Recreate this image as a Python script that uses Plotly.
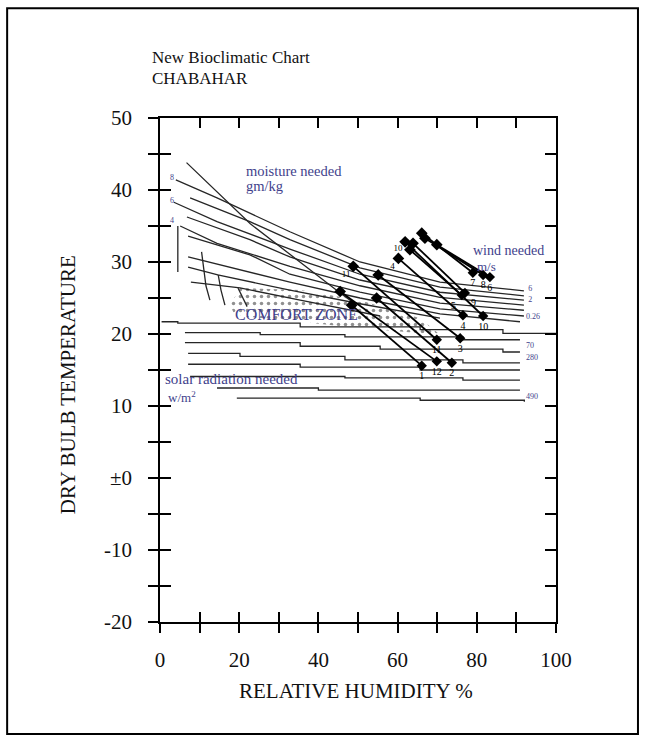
import plotly.graph_objects as go

# ---------------- data ----------------
x_ticks = [0, 10, 20, 30, 40, 50, 60, 70, 80, 90, 100]
x_ticktext = ["0", " ", "20", " ", "40", " ", "60", " ", "80", " ", "100"]
y_ticks = [-20, -15, -10, -5, 0, 5, 10, 15, 20, 25, 30, 35, 40, 45, 50]
y_ticktext = ["-20", " ", "-10", " ", "\u00b10", " ", "10", " ", "20", " ", "30", " ", "40", " ", "50"]

# monthly climate: (RH min, T max) -> (RH max, T min)
months = ["1", "2", "3", "4", "5", "6", "7", "8", "9", "10", "11", "12"]
rh_min = [48.4, 54.7, 55.1, 60.2, 63.1, 69.9, 66.1, 66.9, 63.9, 61.9, 48.8, 45.5]
t_max = [24.0, 25.0, 28.2, 30.5, 31.7, 32.4, 34.0, 33.3, 32.6, 32.8, 29.4, 25.9]
rh_max = [66.1, 73.7, 75.8, 76.5, 76.2, 83.3, 79.0, 81.6, 77.0, 81.6, 69.9, 69.9]
t_min = [15.6, 16.0, 19.4, 22.6, 25.4, 27.9, 28.5, 28.2, 25.7, 22.5, 19.2, 16.2]
bottom_label_pos = ["bottom center", "bottom center", "bottom center", "bottom center",
                    "bottom left", "bottom center", "bottom center", "bottom center",
                    "bottom right", "bottom center", "bottom center", "bottom center"]
# labels shown next to some (RH min, T max) ends
top_labels = ["11", "10", "4", "9"]
top_label_rh = [47.0, 60.1, 58.7, 62.9]
top_label_t = [28.2, 31.8, 29.4, 31.5]

# moisture / wind lines (descending curves)
desc_x = [
    [4.0, 14.4, 32.8, 50.5, 70.7, 91.9],
    [7.6, 22.7, 32.8, 50.5, 70.7, 91.9],
    [3.5, 14.4, 32.8, 50.5, 70.7, 91.9],
    [6.8, 22.7, 32.8, 50.5, 70.7, 91.9],
    [5.1, 14.4, 32.8, 50.5, 70.7, 91.9],
    [7.1, 22.7, 32.8, 50.5, 70.7, 91.9],
    [7.1, 32.8, 50.5, 70.7, 90.9],
    [7.1, 14.6, 32.8, 50.5, 70.7],
    [7.8, 20.2, 35.4, 55.6],
]
desc_t = [
    [41.4, 38.9, 34.2, 30.0, 27.2, 26.0],
    [38.9, 35.6, 33.1, 29.2, 26.5, 25.3],
    [38.3, 35.6, 31.8, 28.3, 25.8, 24.7],
    [36.25, 33.1, 30.7, 27.5, 25.1, 24.0],
    [35.0, 32.6, 29.4, 26.7, 24.3, 23.3],
    [33.6, 31.0, 28.3, 25.8, 23.5, 22.5],
    [30.7, 27.2, 25.0, 22.8, 21.7],
    [29.3, 28.2, 26.1, 24.2, 22.2],
    [27.2, 26.4, 24.7, 22.5],
]
# steep upper comfort boundary
steep_x = [6.7, 22.8, 45.5, 48.5]
steep_t = [43.8, 35.3, 25.7, 24.5]
# near-vertical left boundaries
vert_x = [[4.5, 4.5], [10.5, 11.6, 12.6], [14.7, 15.4, 16.4], [19.7, 22.0]]
vert_t = [[35.0, 28.6], [31.4, 26.7, 24.7], [28.2, 26.1, 24.0], [26.4, 23.8]]

# solar radiation lines (stepped)
solar_x = [
    [0.4, 4.5, 35.4, 65.7, 86.6, 100.0],
    [6.3, 25.3, 46.7, 76.5, 90.9],
    [6.3, 35.4, 55.6, 86.6, 90.9],
    [7.1, 20.2, 46.7, 76.5, 90.9],
    [7.1, 35.4, 65.7, 90.9],
    [7.6, 46.7, 76.5, 90.9],
    [14.4, 40.0, 90.9],
    [19.4, 65.7, 92.0],
]
solar_t = [
    [21.7, 21.5, 21.0, 20.6, 20.1, 20.1],
    [20.2, 19.9, 19.6, 19.2, 19.2],
    [18.8, 18.3, 17.9, 17.5, 17.5],
    [17.3, 16.9, 16.4, 16.0, 16.0],
    [15.8, 15.4, 15.0, 15.0],
    [14.1, 13.9, 13.6, 13.6],
    [12.5, 12.2, 12.2],
    [11.1, 10.8, 10.6],
]

# comfort zone outline
comfort_x = [20.2, 35.4, 50.5, 65.7, 70.7, 50.5, 35.4, 18.9, 17.7, 20.2]
comfort_t = [26.4, 26.1, 24.7, 22.2, 19.9, 20.8, 21.7, 22.6, 24.0, 26.4]

# small line labels
left_lab = ["8", "6", "4"]
left_lab_x = [3.0, 3.0, 3.0]
left_lab_t = [41.6, 38.5, 35.7]
right_lab = ["6", "2", "0.26", "70", "280", "490"]
right_lab_x = [93.0, 93.0, 92.4, 92.4, 92.4, 92.4]
right_lab_t = [26.2, 24.7, 22.3, 18.3, 16.7, 11.3]

LINE = "#262626"
BLUE = "#3f3f8c"
SERIF = "Liberation Serif, Times New Roman, serif"

fig = go.Figure()

# comfort zone stipple
fig.add_trace(go.Scatter(
    x=comfort_x, y=comfort_t, mode="lines", fill="toself",
    fillcolor="rgba(0,0,0,0)", line=dict(width=0),
    fillpattern=dict(shape=".", size=7, solidity=0.2, fgcolor="#222",
                     bgcolor="rgba(0,0,0,0)"),
    hoverinfo="skip", showlegend=False))

for xs, ts in zip(desc_x, desc_t):
    fig.add_trace(go.Scatter(x=xs, y=ts, mode="lines",
                             line=dict(color=LINE, width=1.3),
                             hoverinfo="skip", showlegend=False))
fig.add_trace(go.Scatter(x=steep_x, y=steep_t, mode="lines",
                         line=dict(color=LINE, width=1.3),
                         hoverinfo="skip", showlegend=False))
for xs, ts in zip(vert_x, vert_t):
    fig.add_trace(go.Scatter(x=xs, y=ts, mode="lines",
                             line=dict(color=LINE, width=1.3),
                             hoverinfo="skip", showlegend=False))
for xs, ts in zip(solar_x, solar_t):
    fig.add_trace(go.Scatter(x=xs, y=ts, mode="lines",
                             line=dict(color=LINE, width=1.3, shape="hv"),
                             hoverinfo="skip", showlegend=False))

# monthly lines
for i, m in enumerate(months):
    fig.add_trace(go.Scatter(
        x=[rh_max[i], rh_min[i]], y=[t_min[i], t_max[i]],
        mode="lines", line=dict(color="black", width=1.8),
        hoverinfo="skip", showlegend=False))
# markers at the (RH min, T max) end
fig.add_trace(go.Scatter(
    x=rh_min, y=t_max, mode="markers",
    marker=dict(symbol="diamond", size=9, color="black"),
    hoverinfo="skip", showlegend=False))
# markers at the (RH max, T min) end
fig.add_trace(go.Scatter(
    x=rh_max, y=t_min, mode="markers+text", text=months,
    textposition=bottom_label_pos,
    marker=dict(symbol="diamond", size=8, color="black"),
    textfont=dict(family=SERIF, size=10, color="black"),
    hoverinfo="skip", showlegend=False))
fig.add_trace(go.Scatter(
    x=top_label_rh, y=top_label_t, mode="text", text=top_labels,
    textfont=dict(family=SERIF, size=9, color="black"),
    hoverinfo="skip", showlegend=False))

# small line labels
fig.add_trace(go.Scatter(
    x=left_lab_x, y=left_lab_t, mode="text", text=left_lab,
    textfont=dict(family=SERIF, size=8, color=BLUE),
    hoverinfo="skip", showlegend=False))
fig.add_trace(go.Scatter(
    x=right_lab_x, y=right_lab_t, mode="text", text=right_lab,
    textposition="middle right",
    textfont=dict(family=SERIF, size=8, color=BLUE),
    hoverinfo="skip", showlegend=False))

# dummy for overlay axes (outward ticks)
fig.add_trace(go.Scatter(x=[None], y=[None], xaxis="x2", yaxis="y2",
                         showlegend=False, hoverinfo="skip"))

def ann(text, x, y, size, color=BLUE, xref="x", yref="y", xanchor="left", **kw):
    fig.add_annotation(text=text, x=x, y=y, xref=xref, yref=yref,
                       xanchor=xanchor, yanchor="middle", showarrow=False,
                       font=dict(family=SERIF, size=size, color=color), **kw)

ann("moisture needed", 21.2, 42.7, 14.5)
ann("gm/kg", 21.2, 40.5, 14.5)
ann("wind needed", 78.5, 31.6, 14)
ann("m/s", 79.5, 29.4, 13)
ann("COMFORT ZONE", 18.4, 22.7, 16)
ann("solar radiation needed", 0.8, 13.8, 15)
ann("w/m<sup>2</sup>", 1.5, 11.2, 13)

ann("New Bioclimatic Chart", -0.025, 1.121, 17, color="#111", xref="paper", yref="paper")
ann("CHABAHAR", -0.025, 1.079, 17, color="#111", xref="paper", yref="paper")
ann("RELATIVE HUMIDITY %", 0.495, -0.137, 21, color="#111", xref="paper", yref="paper",
    xanchor="center")
ann("DRY BULB TEMPERATURE", -0.232, 0.47, 21, color="#111", xref="paper", yref="paper",
    xanchor="center", textangle=-90)

fig.add_shape(type="rect", xref="paper", yref="paper",
              x0=-0.386, x1=1.207, y0=-0.222, y1=1.218,
              line=dict(color="black", width=2))

axis_common = dict(showgrid=False, zeroline=False)
fig.update_layout(
    width=647, height=737,
    margin=dict(l=160, r=91, t=118, b=115),
    plot_bgcolor="white", paper_bgcolor="white",
    xaxis=dict(range=[0, 100], tickvals=x_ticks, ticktext=x_ticktext,
               ticks="inside", ticklen=10, tickwidth=1.5, tickcolor="black",
               showline=True, linecolor="black", linewidth=1.5, mirror="ticks",
               tickfont=dict(family=SERIF, size=21, color="#111"),
               ticklabelstandoff=18, **axis_common),
    yaxis=dict(range=[-20, 50], tickvals=y_ticks, ticktext=y_ticktext,
               ticks="inside", ticklen=11, tickwidth=1.5, tickcolor="black",
               showline=True, linecolor="black", linewidth=1.5, mirror="ticks",
               tickfont=dict(family=SERIF, size=21, color="#111"),
               ticklabelstandoff=22, **axis_common),
    xaxis2=dict(range=[0, 100], tickvals=x_ticks, overlaying="x", anchor="y2",
                ticks="outside", ticklen=10, tickwidth=1.5, tickcolor="black",
                showticklabels=False, showline=False, **axis_common),
    yaxis2=dict(range=[-20, 50], tickvals=y_ticks, overlaying="y", anchor="x2",
                ticks="outside", ticklen=11, tickwidth=1.5, tickcolor="black",
                showticklabels=False, showline=False, **axis_common),
)

fig.write_html("out.html")
